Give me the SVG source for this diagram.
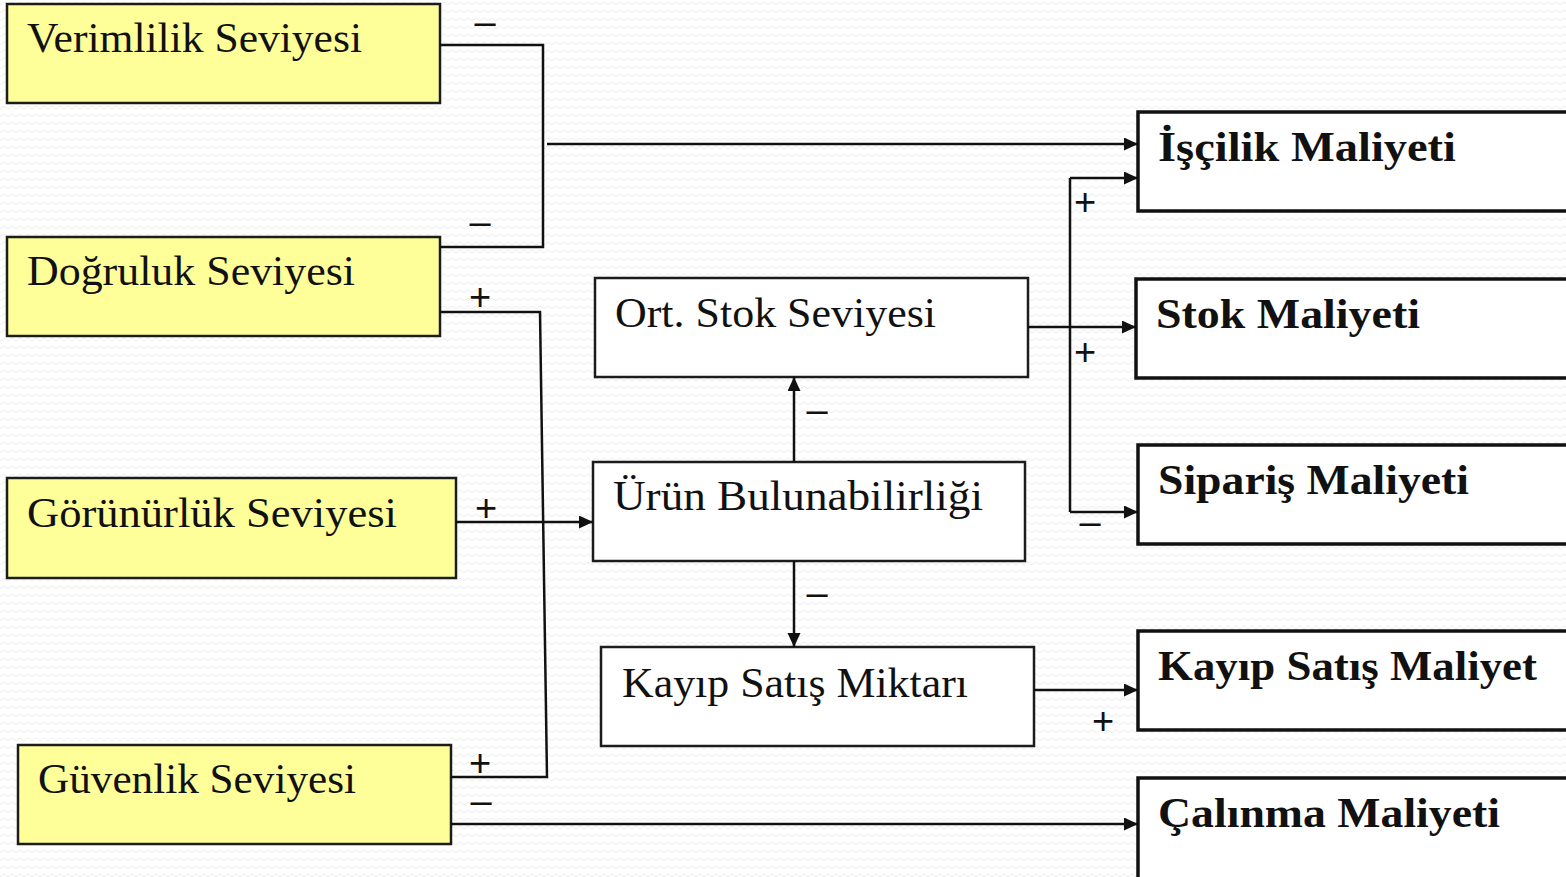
<svg xmlns="http://www.w3.org/2000/svg" width="1566" height="877" viewBox="0 0 1566 877">
  <defs>
    <!-- faint zigzag paper texture -->
    <pattern id="zigzag" width="8" height="8" patternUnits="userSpaceOnUse">
      <polyline points="0,5 4,2 8,5" fill="none" stroke="#ececec" stroke-width="1"/>
    </pattern>
    <marker id="arrow" markerUnits="userSpaceOnUse" markerWidth="15" markerHeight="14" refX="14" refY="6.5" orient="auto">
      <path d="M0,0 L14,6.5 L0,13 z" fill="#111"/>
    </marker>
    <style>
      .src { fill: #ffff99; stroke: #1c1c1c; stroke-width: 2.5; }
      .mid { fill: #ffffff; stroke: #1c1c1c; stroke-width: 2.5; }
      .cost { fill: #ffffff; stroke: #111; stroke-width: 3.5; }
      .lbl { font-family: "Liberation Serif", "DejaVu Serif", serif; font-size: 42px; fill: #111; }
      .bold { font-family: "Liberation Serif", "DejaVu Serif", serif; font-size: 42px; font-weight: bold; fill: #111; }
      .sign { font-family: "Liberation Sans", "DejaVu Sans", sans-serif; font-size: 38px; fill: #111; text-anchor: middle; }
      .wire { fill: none; stroke: #111; stroke-width: 2.5; }
      .arr { marker-end: url(#arrow); }
    </style>
  </defs>

  <rect x="0" y="0" width="1566" height="877" fill="#ffffff"/>
  <rect x="0" y="0" width="1566" height="877" fill="url(#zigzag)"/>

  <!-- source factors -->
  <g id="verimlilik">
    <rect class="src" x="7" y="4" width="433" height="99"/>
    <text class="lbl" x="27" y="52" textLength="335" lengthAdjust="spacingAndGlyphs">Verimlilik Seviyesi</text>
  </g>
  <g id="dogruluk">
    <rect class="src" x="7" y="237" width="433" height="99"/>
    <text class="lbl" x="27" y="285" textLength="328" lengthAdjust="spacingAndGlyphs">Doğruluk Seviyesi</text>
  </g>
  <g id="gorunurluk">
    <rect class="src" x="7" y="478" width="449" height="100"/>
    <text class="lbl" x="27" y="527" textLength="370" lengthAdjust="spacingAndGlyphs">Görünürlük Seviyesi</text>
  </g>
  <g id="guvenlik">
    <rect class="src" x="18" y="745" width="433" height="99"/>
    <text class="lbl" x="38" y="793" textLength="318" lengthAdjust="spacingAndGlyphs">Güvenlik Seviyesi</text>
  </g>

  <!-- intermediate effects -->
  <g id="ort-stok">
    <rect class="mid" x="595" y="278" width="433" height="99"/>
    <text class="lbl" x="615" y="327" textLength="321" lengthAdjust="spacingAndGlyphs">Ort. Stok Seviyesi</text>
  </g>
  <g id="urun-bulunabilirligi">
    <rect class="mid" x="593" y="462" width="432" height="99"/>
    <text class="lbl" x="613" y="510" textLength="370" lengthAdjust="spacingAndGlyphs">Ürün Bulunabilirliği</text>
  </g>
  <g id="kayip-satis-miktari">
    <rect class="mid" x="601" y="647" width="433" height="99"/>
    <text class="lbl" x="622" y="697" textLength="346" lengthAdjust="spacingAndGlyphs">Kayıp Satış Miktarı</text>
  </g>

  <!-- cost items -->
  <g id="iscilik-maliyeti">
    <rect class="cost" x="1138" y="112" width="440" height="99"/>
    <text class="bold" x="1158" y="161" textLength="298" lengthAdjust="spacingAndGlyphs">İşçilik Maliyeti</text>
  </g>
  <g id="stok-maliyeti">
    <rect class="cost" x="1136" y="279" width="442" height="99"/>
    <text class="bold" x="1156" y="328" textLength="264" lengthAdjust="spacingAndGlyphs">Stok Maliyeti</text>
  </g>
  <g id="siparis-maliyeti">
    <rect class="cost" x="1138" y="445" width="440" height="99"/>
    <text class="bold" x="1158" y="494" textLength="311" lengthAdjust="spacingAndGlyphs">Sipariş Maliyeti</text>
  </g>
  <g id="kayip-satis-maliyet">
    <rect class="cost" x="1138" y="631" width="440" height="99"/>
    <text class="bold" x="1158" y="680" textLength="379" lengthAdjust="spacingAndGlyphs">Kayıp Satış Maliyet</text>
  </g>
  <g id="calinma-maliyeti">
    <rect class="cost" x="1138" y="778" width="440" height="110"/>
    <text class="bold" x="1158" y="827" textLength="342" lengthAdjust="spacingAndGlyphs">Çalınma Maliyeti</text>
  </g>

  <!-- connectors -->
  <g id="connectors">
    <path class="wire" d="M440,45 H543 V247 H440"/>
    <path class="wire arr" d="M547,144 H1138"/>
    <path class="wire" d="M440,312 H540 L547,777 H451"/>
    <path class="wire arr" d="M456,522 H593"/>
    <path class="wire arr" d="M451,824 H1138"/>
    <path class="wire arr" d="M1028,327 H1136"/>
    <path class="wire arr" d="M1070,178 H1138"/>
    <path class="wire" d="M1070,178 V512"/>
    <path class="wire arr" d="M1070,512 H1138"/>
    <path class="wire arr" d="M794,462 V377"/>
    <path class="wire arr" d="M794,561 V647"/>
    <path class="wire arr" d="M1034,690 H1138"/>

    <!-- polarity signs -->
    <text class="sign" x="485" y="35">–</text>
    <text class="sign" x="480" y="235">–</text>
    <text class="sign" x="480" y="310">+</text>
    <text class="sign" x="486" y="521">+</text>
    <text class="sign" x="480" y="776">+</text>
    <text class="sign" x="481" y="814">–</text>
    <text class="sign" x="817" y="423">–</text>
    <text class="sign" x="817" y="606">–</text>
    <text class="sign" x="1085" y="215">+</text>
    <text class="sign" x="1085" y="365">+</text>
    <text class="sign" x="1090" y="535">–</text>
    <text class="sign" x="1103" y="734">+</text>
  </g>
</svg>
